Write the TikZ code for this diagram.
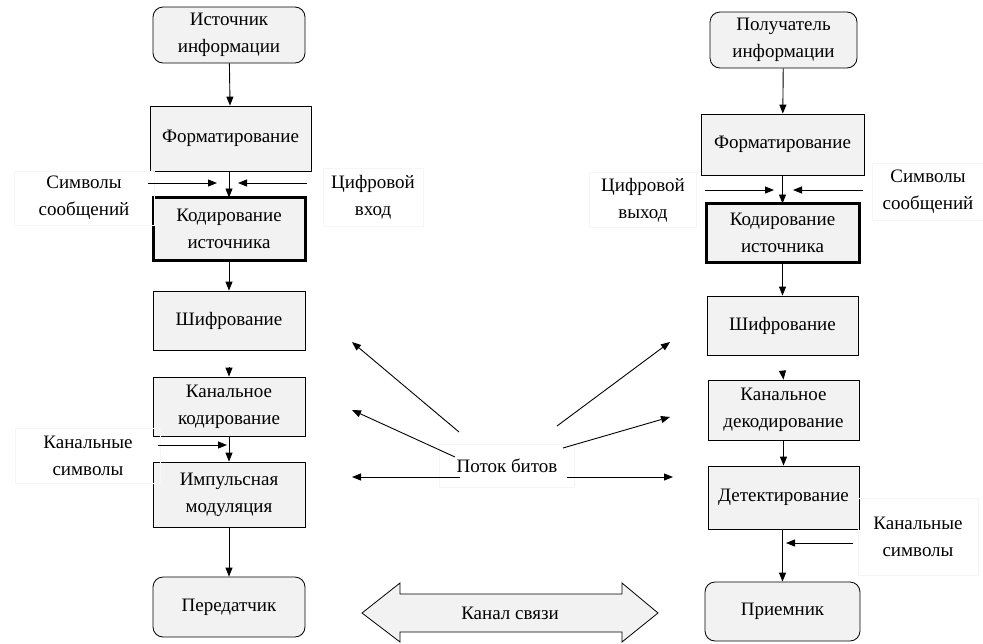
\documentclass[tikz,border=0pt]{standalone}
\usepackage{fontspec}
\setmainfont{Liberation Serif}
\usetikzlibrary{arrows.meta}
\definecolor{boxfill}{HTML}{F2F2F2}
\definecolor{faint}{HTML}{F6F6F6}
\tikzset{
  txt/.style={font=\fontsize{19}{27}\selectfont, align=center},
  box/.style={txt, draw, fill=boxfill, line width=0.8pt, inner sep=0pt},
  rbox/.style={box, rounded corners=10pt},
  tbox/.style={box, line width=3pt},
  lbl/.style={txt, draw=faint, line width=0.5pt, inner sep=0pt},
  arr/.style={-{Triangle[length=9pt,width=7pt]}, line width=0.9pt},
}
\begin{document}
\begin{tikzpicture}[x=1pt,y=-1pt]
\useasboundingbox (0,0) rectangle (983,643);
% left column
\node[rbox, minimum width=152pt, minimum height=56pt] (src) at (229,35) {Источник\\информации};
\node[box, minimum width=161pt, minimum height=65pt] (fmtL) at (230.5,138.5) {Форматирование};
\node[tbox, minimum width=152pt, minimum height=63pt] (codL) at (229,228.5) {Кодирование\\источника};
\node[box, minimum width=152pt, minimum height=59pt] (encL) at (229,320.5) {Шифрование};
\node[box, minimum width=152pt, minimum height=59pt] (chL) at (229,406.5) {Канальное\\кодирование};
\node[box, minimum width=152pt, minimum height=65pt] (modL) at (229,494.5) {Импульсная\\модуляция};
\node[rbox, minimum width=152pt, minimum height=60pt] (txL) at (229,607) {Передатчик};
% right column
\node[rbox, minimum width=147pt, minimum height=56pt] (dst) at (783.5,40) {Получатель\\информации};
\node[box, minimum width=163pt, minimum height=61pt] (fmtR) at (782.5,144.5) {Форматирование};
\node[tbox, minimum width=153pt, minimum height=59pt] (codR) at (782.5,232.5) {Кодирование\\источника};
\node[box, minimum width=151pt, minimum height=59pt] (encR) at (782.5,325.5) {Шифрование};
\node[box, minimum width=151pt, minimum height=60pt] (chR) at (783.5,410) {Канальное\\декодирование};
\node[box, minimum width=151pt, minimum height=63pt] (detR) at (783.5,497.5) {Детектирование};
\node[rbox, minimum width=155pt, minimum height=59pt] (rxR) at (782.5,611.5) {Приемник};
% side labels
\node[lbl, minimum width=140pt, minimum height=54pt] (symL) at (84,198) {Символы\\сообщений};
\node[lbl, minimum width=100pt, minimum height=58pt] (digIn) at (373,197) {Цифровой\\вход};
\node[lbl, minimum width=145pt, minimum height=55pt] (chanL) at (88,456) {Канальные\\символы};
\node[lbl, minimum width=107pt, minimum height=55pt] (digOut) at (643,200) {Цифровой\\выход};
\node[lbl, minimum width=112pt, minimum height=57pt] (symR) at (928,192) {Символы\\сообщений};
\node[lbl, minimum width=120pt, minimum height=77pt] (chanR) at (918,537) {Канальные\\символы};
\node[lbl, minimum width=135pt, minimum height=43pt] (bits) at (507,465.5) {Поток битов};
% vertical connectors left
\draw[arr] (src) -- (fmtL);
\draw[arr] (fmtL.south -| codL.north) -- ([yshift=-2pt]codL.north);
\draw[arr] (codL) -- (encL);
\coordinate (hL) at (229,367);
\draw[arr] (hL) -- (chL.north);
\draw[arr] (chL) -- (modL);
\draw[arr] (modL) -- (txL);
% vertical connectors right
\draw[arr] (dst) -- (fmtR);
\draw[arr] (fmtR.south -| codR.north) -- ([yshift=-2pt]codR.north);
\draw[arr] (codR) -- (encR);
\coordinate (hR) at (782.5,371);
\draw[arr] (hR) -- (chR.north);
\draw[arr] (chR.south -| detR.north) -- (detR.north);
\draw[arr] (detR.south -| rxR.north) -- (rxR.north);
% side input arrows
\coordinate (a1s) at (148,183); \coordinate (a1e) at (217,183);
\coordinate (a2s) at (307,183); \coordinate (a2e) at (238,183);
\coordinate (a3s) at (158,445); \coordinate (a3e) at (227,445);
\coordinate (a4s) at (705,190); \coordinate (a4e) at (774,190);
\coordinate (a5s) at (863,190); \coordinate (a5e) at (793,190);
\coordinate (a6s) at (853,543); \coordinate (a6e) at (786,543);
\draw[arr] (a1s) -- (a1e);
\draw[arr] (a2s) -- (a2e);
\draw[arr] (a3s) -- (a3e);
\draw[arr] (a4s) -- (a4e);
\draw[arr] (a5s) -- (a5e);
\draw[arr] (a6s) -- (a6e);
% bit stream arrows
\coordinate (bL1s) at (459,432); \coordinate (bL1e) at (352,342);
\coordinate (bL2s) at (455,457); \coordinate (bL2e) at (352,410);
\coordinate (bL3s) at (460,477); \coordinate (bL3e) at (352,477);
\coordinate (bR1s) at (557,426); \coordinate (bR1e) at (670,342);
\coordinate (bR2s) at (563,448); \coordinate (bR2e) at (670,417);
\coordinate (bR3s) at (567,477); \coordinate (bR3e) at (673,477);
\foreach \n in {L1,L2,L3,R1,R2,R3} \draw[arr] (b\n s) -- (b\n e);
% channel double arrow
\draw[line width=0.8pt, fill=boxfill, line join=miter]
  (362,613) -- (400,583) -- (400,594) -- (622,594) -- (622,583) -- (658,613)
  -- (622,642) -- (622,632) -- (400,632) -- (400,642) -- cycle;
\node[txt] (chan) at (510,613) {Канал связи};
\end{tikzpicture}
\end{document}
